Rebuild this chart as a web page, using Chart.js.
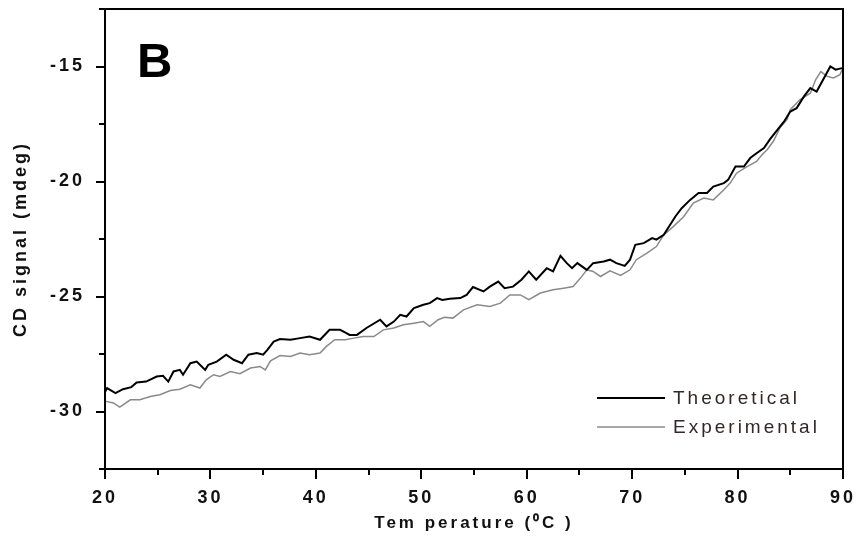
<!DOCTYPE html>
<html>
<head>
<meta charset="utf-8">
<script src="https://cdn.jsdelivr.net/npm/chart.js@4.4.0/dist/chart.umd.min.js"></script>
<style>
  html, body { margin: 0; padding: 0; background: #fff; }
  #wrap { width: 857px; height: 553px; }
</style>
</head>
<body>
<div id="wrap"><canvas id="myChart" width="857" height="553"></canvas></div>
<script>
// values
const theoTemp = [20.0, 20.2, 21.0, 21.7, 22.5, 23.0, 23.9, 24.9, 25.5, 26.0, 26.5, 27.1, 27.4, 28.1, 28.7, 29.5, 29.8,
  30.6, 31.5, 32.2, 33.0, 33.6, 34.4, 35.0, 35.4, 36.0, 36.6, 37.6, 38.5, 39.4, 40.4, 41.3, 42.3, 42.9, 43.2, 43.9,
  44.8, 46.1, 46.7, 47.4, 48.0, 48.6, 49.3, 50.2, 50.8, 51.5, 52.0, 52.7, 53.7, 54.3, 54.9, 55.9, 56.5, 57.3, 57.9,
  58.7, 59.5, 60.2, 60.9, 61.9, 62.5, 63.2, 63.8, 64.3, 64.8, 65.7, 66.3, 67.3, 67.9, 68.5, 69.3, 69.8, 70.3, 71.1,
  71.9, 72.3, 73.0, 73.5, 74.1, 74.7, 75.5, 76.3, 77.1, 77.7, 78.7, 79.1, 79.8, 80.6, 81.2, 81.8, 82.5, 83.1, 83.7,
  84.4, 85.0, 85.6, 86.3, 86.9, 87.5, 88.2, 88.8, 89.3, 89.9];
const theoSignal = [-29.15, -28.98, -29.2, -29.03, -28.94, -28.74, -28.7, -28.48, -28.45, -28.7, -28.26, -28.19, -28.4, -27.9, -27.83, -28.19, -27.97,
  -27.83, -27.53, -27.75, -27.9, -27.53, -27.46, -27.53, -27.32, -26.96, -26.85, -26.88, -26.81, -26.74, -26.88, -26.45, -26.45, -26.59, -26.67, -26.67,
  -26.37, -26.01, -26.3, -26.09, -25.8, -25.87, -25.5, -25.36, -25.29, -25.07, -25.15, -25.1, -25.07, -24.93, -24.59, -24.78, -24.57, -24.35, -24.64,
  -24.57, -24.27, -23.91, -24.27, -23.77, -23.91, -23.23, -23.55, -23.77, -23.55, -23.84, -23.55, -23.48, -23.4, -23.55, -23.67, -23.4, -22.75, -22.68,
  -22.46, -22.53, -22.32, -21.96, -21.52, -21.16, -20.8, -20.5, -20.5, -20.22, -20.07, -19.93, -19.35, -19.35, -18.98, -18.77, -18.55, -18.15, -17.8,
  -17.4, -16.96, -16.81, -16.3, -15.94, -16.09, -15.5, -15.0, -15.14, -15.07];

const expTemp = [20.0, 20.2, 20.8, 21.4, 22.4, 23.3, 24.3, 25.2, 26.2, 27.1, 28.1, 29.0, 29.6, 30.3, 30.9, 31.9, 32.8,
  33.8, 34.7, 35.2, 35.7, 36.6, 37.6, 38.5, 39.4, 40.4, 41.0, 41.8, 42.8, 43.6, 44.5, 45.5, 46.4, 47.4, 48.3, 49.3,
  50.2, 50.8, 51.6, 52.2, 53.0, 54.0, 55.3, 56.5, 57.5, 58.4, 59.4, 60.2, 61.3, 62.5, 63.5, 64.4, 65.1, 65.7, 66.3,
  67.0, 67.9, 68.9, 69.8, 70.4, 71.4, 72.3, 73.0, 73.9, 74.9, 75.8, 76.8, 77.7, 78.7, 79.3, 79.9, 80.9, 81.8, 82.3,
  82.8, 83.4, 84.0, 84.7, 85.0, 85.9, 86.9, 87.4, 87.9, 88.5, 89.1, 89.7, 90.0];
const expSignal = [-29.55, -29.57, -29.63, -29.81, -29.49, -29.49, -29.35, -29.27, -29.09, -29.03, -28.84, -28.98, -28.62, -28.4, -28.48, -28.26, -28.36,
  -28.11, -28.04, -28.19, -27.8, -27.57, -27.61, -27.46, -27.53, -27.46, -27.17, -26.88, -26.88, -26.81, -26.74, -26.74, -26.45, -26.37, -26.23, -26.16,
  -26.09, -26.3, -26.01, -25.9, -25.94, -25.58, -25.36, -25.43, -25.29, -24.93, -24.93, -25.14, -24.85, -24.71, -24.64, -24.57, -24.2, -23.84, -23.91,
  -24.13, -23.88, -24.08, -23.84, -23.4, -23.11, -22.83, -22.32, -21.96, -21.52, -20.94, -20.72, -20.8, -20.36, -20.07, -19.64, -19.35, -19.13, -18.85,
  -18.62, -18.25, -17.68, -17.3, -16.88, -16.45, -16.16, -15.58, -15.22, -15.43, -15.5, -15.36, -15.07];

const seriesNames = ['Theoretical', 'Experimental'];
const seriesColors = ['#000000', '#8a8a8a'];
const xTickLabels = [20, 30, 40, 50, 60, 70, 80, 90];
const yTickLabels = [-15, -20, -25, -30];

const FONT = '"Liberation Sans", Arial, sans-serif';

function toPoints(xs, ys) {
  return xs.map((x, i) => ({ x: x, y: ys[i] }));
}

// frame, tick marks, "B" and the legend
const decorations = {
  id: 'decorations',
  beforeDraw(chart) {
    chart.ctx.letterSpacing = '3px';
  },
  afterDraw(chart) {
    const ctx = chart.ctx;
    const a = chart.chartArea;
    const xs = chart.scales.x, ys = chart.scales.y;
    ctx.save();
    ctx.strokeStyle = '#000';
    ctx.lineWidth = 2;
    ctx.strokeRect(a.left, a.top, a.right - a.left, a.bottom - a.top);

    ctx.beginPath();
    ys.ticks.forEach(t => {
      const p = Math.round(ys.getPixelForValue(t.value));
      const len = (Math.abs(t.value % 5) < 0.01) ? 9 : 6;
      ctx.moveTo(a.left - len, p);
      ctx.lineTo(a.left, p);
    });
    xs.ticks.forEach(t => {
      const p = Math.round(xs.getPixelForValue(t.value));
      const len = (Math.abs(t.value % 10) < 0.01) ? 10 : 6;
      ctx.moveTo(p, a.bottom);
      ctx.lineTo(p, a.bottom + len);
    });
    ctx.stroke();

    ctx.letterSpacing = '0px';
    ctx.fillStyle = '#000';
    ctx.font = 'bold 49px ' + FONT;
    ctx.textAlign = 'left';
    ctx.textBaseline = 'alphabetic';
    ctx.fillText('B', a.left + 32, a.top + 68);

    // legend
    ctx.letterSpacing = '3px';
    ctx.font = '19px ' + FONT;
    ctx.textBaseline = 'middle';
    const lx = a.left + 492, ly = a.top + 389;
    seriesNames.forEach((name, i) => {
      const y = ly + i * 29;
      ctx.strokeStyle = seriesColors[i];
      ctx.lineWidth = i === 0 ? 2 : 1.5;
      ctx.beginPath();
      ctx.moveTo(lx, y);
      ctx.lineTo(lx + 68, y);
      ctx.stroke();
      ctx.fillStyle = '#332828';
      ctx.fillText(name, lx + 76, y + 1);
    });
    ctx.restore();
  }
};

const ctx = document.getElementById('myChart').getContext('2d');
const myChart = new Chart(ctx, {
  type: 'scatter',
  data: {
    datasets: [
      {
        label: seriesNames[0],
        data: toPoints(theoTemp, theoSignal),
        showLine: true,
        borderColor: seriesColors[0],
        borderWidth: 2,
        pointRadius: 0,
        tension: 0
      },
      {
        label: seriesNames[1],
        data: toPoints(expTemp, expSignal),
        showLine: true,
        borderColor: seriesColors[1],
        borderWidth: 1.5,
        pointRadius: 0,
        tension: 0
      }
    ]
  },
  options: {
    responsive: false,
    animation: false,
    layout: { padding: { left: 0, top: 9, right: 14, bottom: 0 } },
    plugins: {
      legend: { display: false },
      tooltip: { enabled: false }
    },
    scales: {
      x: {
        type: 'linear',
        min: 20,
        max: 90,
        afterFit(scale) {
          scale.height = 84;
          scale.paddingLeft = 0;
          scale.paddingRight = 0;
        },
        grid: { display: true, drawOnChartArea: false, drawTicks: false },
        border: { display: false },
        ticks: {
          stepSize: 5,
          padding: 18,
          color: '#111',
          font: { family: FONT, size: 18, weight: 'bold' },
          callback: v => xTickLabels.includes(v) ? String(v) : ''
        },
        title: {
          display: true,
          text: 'Tem perature (\u2070C )',
          color: '#111',
          font: { family: FONT, size: 17, weight: 'bold' },
          padding: { top: 0, bottom: 19 }
        }
      },
      y: {
        min: -32.5,
        max: -12.5,
        afterFit(scale) {
          scale.width = 105;
          scale.paddingTop = 0;
          scale.paddingBottom = 0;
        },
        grid: { display: true, drawOnChartArea: false, drawTicks: false },
        border: { display: false },
        ticks: {
          stepSize: 2.5,
          padding: 20,
          color: '#111',
          font: { family: FONT, size: 18, weight: 'bold' },
          callback: v => yTickLabels.includes(v) ? String(v) : ''
        },
        title: {
          display: true,
          text: 'CD signal (mdeg)',
          color: '#111',
          font: { family: FONT, size: 18, weight: 'bold' },
          padding: { top: 10, bottom: 0 }
        }
      }
    }
  },
  plugins: [decorations]
});
</script>
</body>
</html>
